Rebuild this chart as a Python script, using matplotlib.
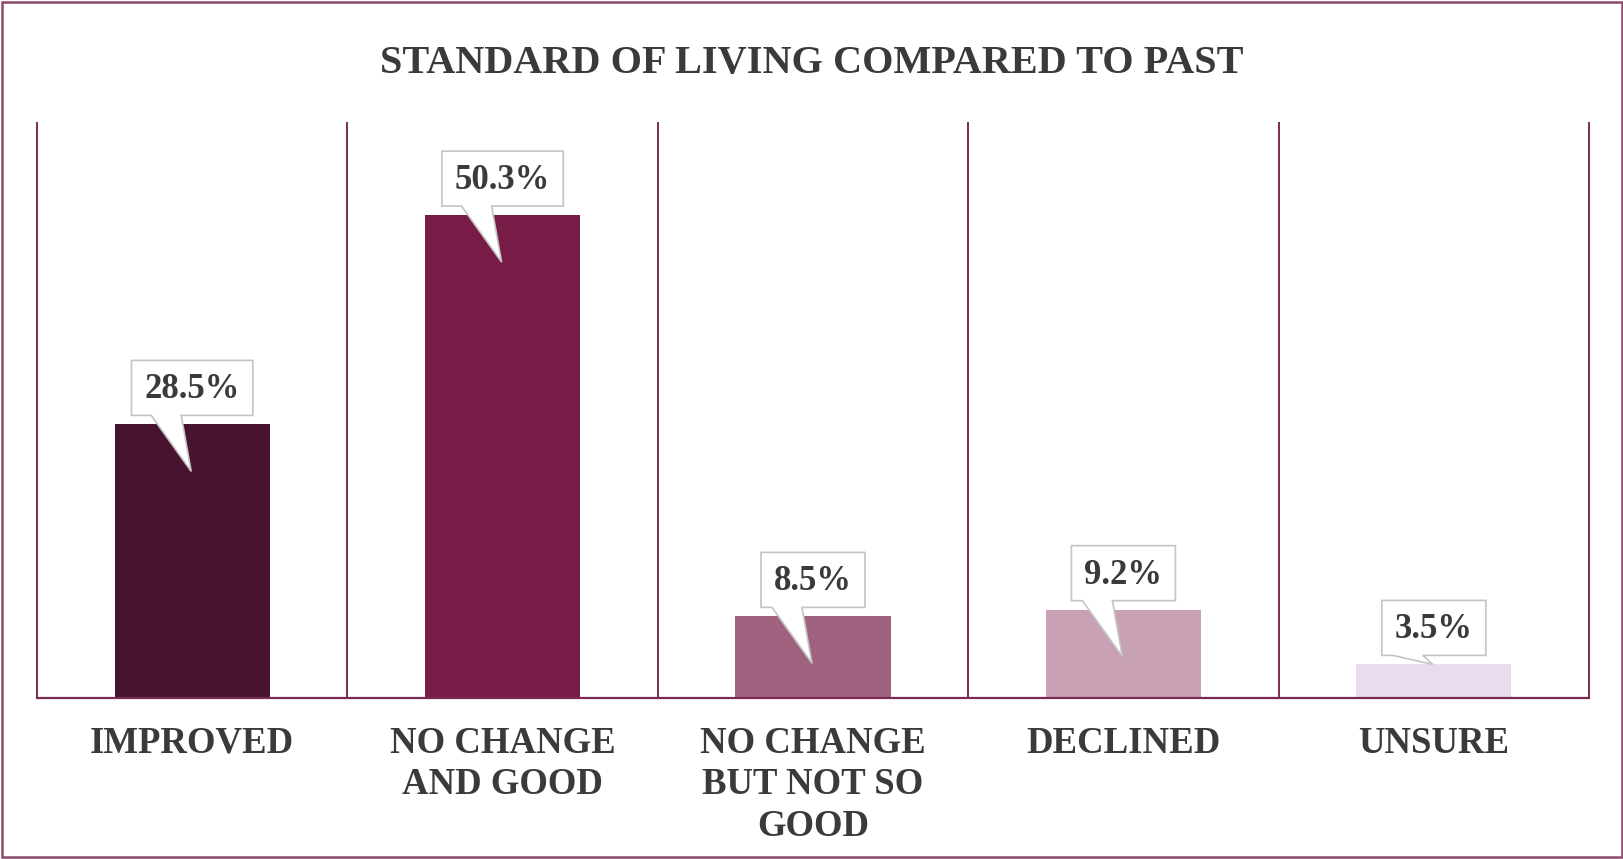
import numpy as np
import matplotlib
matplotlib.use("Agg")
import matplotlib.pyplot as plt
from matplotlib.patches import Polygon, Rectangle

# data
categories = ["IMPROVED", "NO CHANGE\nAND GOOD", "NO CHANGE\nBUT NOT SO\nGOOD",
              "DECLINED", "UNSURE"]
values = [28.5, 50.3, 8.5, 9.2, 3.5]
value_labels = ["28.5%", "50.3%", "8.5%", "9.2%", "3.5%"]
bar_colors = ["#48132e", "#771c47", "#a1627f", "#c9a1b4", "#e8dcee"]

title = "STANDARD OF LIVING COMPARED TO PAST"

plt.rcParams["font.family"] = ["Liberation Serif", "DejaVu Serif"]
line_col = "#7a2a50"
text_col = "#3a3a3a"

fig = plt.figure(figsize=(16.24, 8.59), dpi=100)
ax = fig.add_axes([37 / 1624, 161 / 859, 1552 / 1624, 576 / 859])

x = np.arange(len(categories))
ax.bar(x, values, width=0.5, color=bar_colors, zorder=2)

ax.set_xlim(-0.5, len(categories) - 0.5)
ax.set_ylim(0, 60)

# column dividers
ax.vlines(np.arange(-0.5, len(categories)), 0, 60, color=line_col, lw=1.4,
          clip_on=False, zorder=1)
for s in ["top", "left", "right"]:
    ax.spines[s].set_visible(False)
ax.spines["bottom"].set_color(line_col)
ax.spines["bottom"].set_linewidth(1.6)

ax.set_yticks([])
ax.set_xticks(x)
ax.set_xticklabels(categories, fontsize=26.5, fontweight="bold", color=text_col,
                   linespacing=1.24)
ax.tick_params(axis="x", length=0, pad=20)

fig.text(0.5, 1 - 73 / 859, title, ha="center", va="baseline", fontsize=29,
         fontweight="bold", color=text_col)

# callout boxes with a pointer
fig.canvas.draw()
renderer = fig.canvas.get_renderer()
inv = ax.transData.inverted()
for i, (v, lbl) in enumerate(zip(values, value_labels)):
    bx, by = ax.transData.transform((i, v))
    t = ax.annotate(lbl, xy=(i, v), xytext=(0, 9 + 17), textcoords="offset pixels",
                    ha="center", va="baseline", fontsize=25, fontweight="bold",
                    color=text_col, zorder=5, annotation_clip=False)
    w = t.get_window_extent(renderer).width
    left = bx - w / 2 - 13
    right = bx + w / 2 + 13
    bottom = by + 9
    top = bottom + 55
    depth = 47 if v > 5 else 0
    pts = [(left, bottom), (bx - 41, bottom), (bx - 1, by - depth),
           (bx - 11, bottom), (right, bottom), (right, top), (left, top)]
    pts = inv.transform(pts)
    ax.add_patch(Polygon(pts, closed=True, facecolor="white", edgecolor="#c4c4c4",
                         lw=1.2, zorder=4, clip_on=False))

# outer frame
fig.patches.append(Rectangle((0.0015, 0.002), 0.997, 0.996, transform=fig.transFigure,
                             fill=False, edgecolor="#8a4a6c", lw=1.8))

fig.savefig("out.png", dpi=100)
